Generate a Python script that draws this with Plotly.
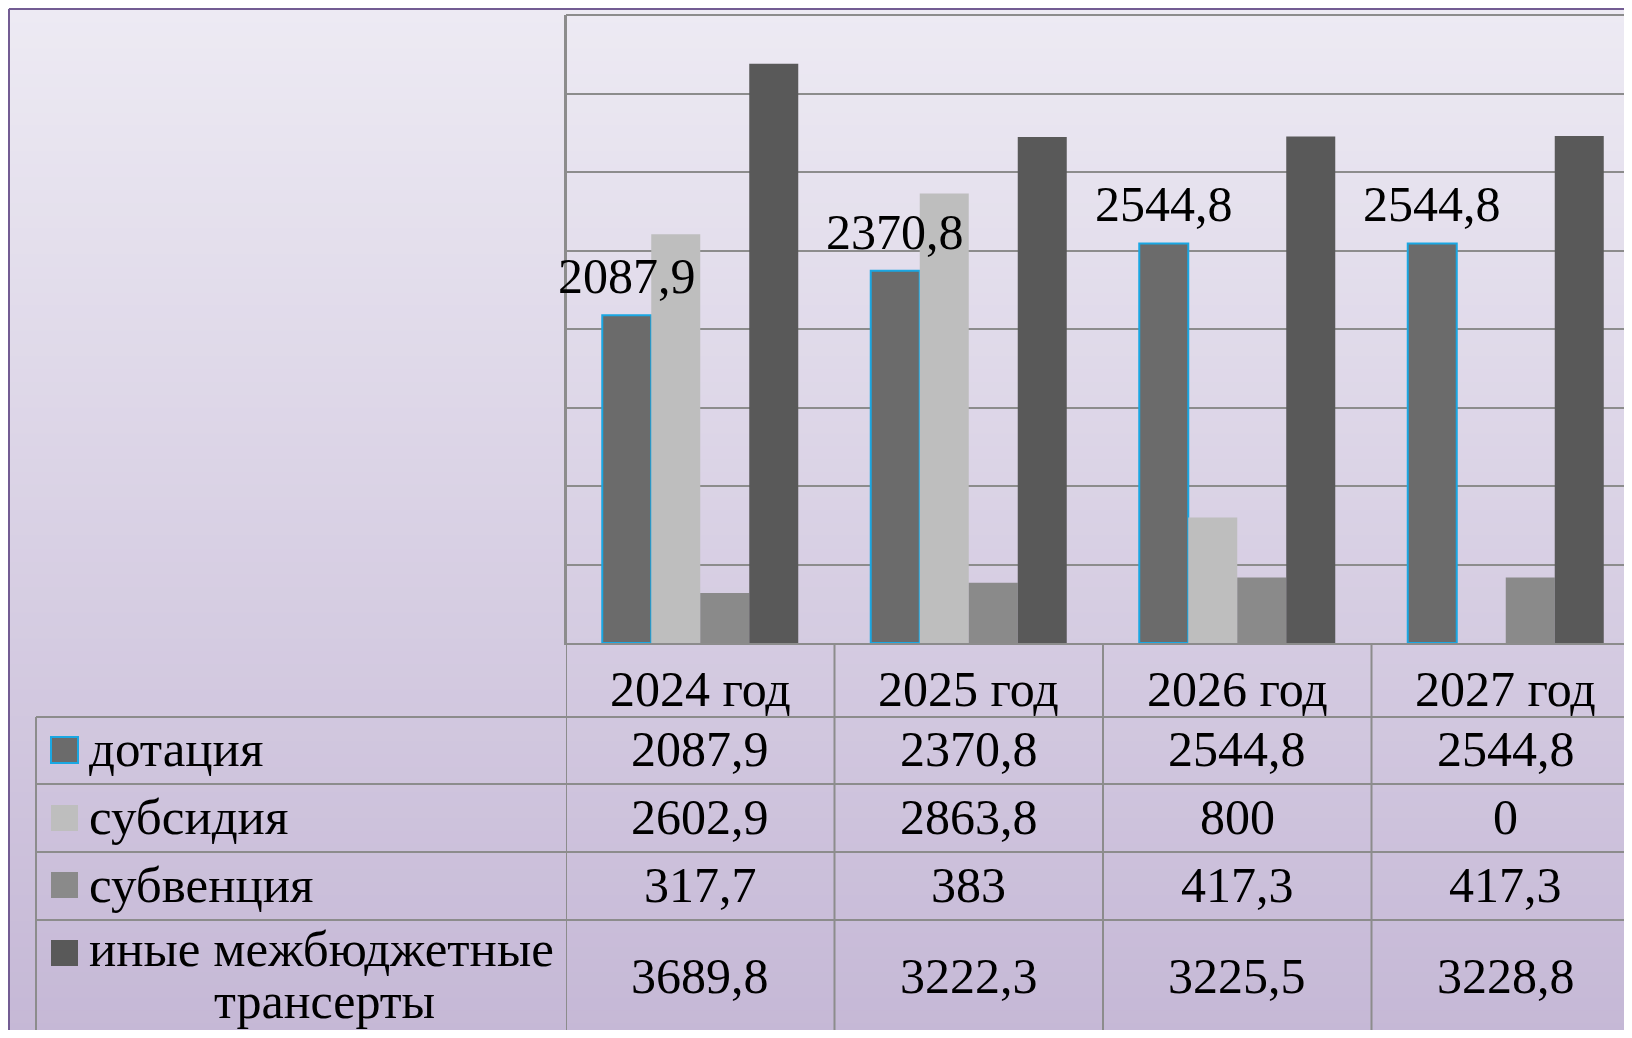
import plotly.graph_objects as go

# ---------------- data ----------------
years = ["2024 год", "2025 год", "2026 год", "2027 год"]
series_names = ["дотация", "субсидия", "субвенция", "иные межбюджетные<br>трансерты"]
dotaciya = [2087.9, 2370.8, 2544.8, 2544.8]
subsidiya = [2602.9, 2863.8, 800, 0]
subvenciya = [317.7, 383, 417.3, 417.3]
inye = [3689.8, 3222.3, 3225.5, 3228.8]
all_values = [dotaciya, subsidiya, subvenciya, inye]

colors = ["#6B6B6B", "#BEBEBE", "#8A8A8A", "#595959"]
FONT = "Liberation Serif"
FS = 50
FS_LEG = 51

OFF = 8  # browser body margin
W, H = 1632 - 2 * OFF, 1038 - 2 * OFF
PL, PT, PB = 566 - OFF, 15 - OFF, 643 - OFF  # plot area pixel bounds (figure coords)
PR = W
CAT_W = 268.5
BARGAP = 0.27


def fmt(v):
    if float(v).is_integer():
        return str(int(v))
    return str(v).replace(".", ",")


def py(p):  # page pixel y -> paper y
    return (PB - (p - OFF)) / (PB - PT)


def px(p):  # page pixel x -> paper x
    return ((p - OFF) - PL) / (PR - PL)


fig = go.Figure()
for i, (name, vals) in enumerate(zip(series_names, all_values)):
    fig.add_trace(go.Bar(
        x=list(range(len(years))), y=vals, name=name.replace("<br>", " "),
        marker=dict(color=colors[i],
                    line=dict(color="#1AA7E2" if i == 0 else colors[i], width=2 if i == 0 else 0))))

shapes = []
# background gradient
top_c = (237, 234, 243)
bot_c = (197, 184, 214)
N = 80
y0p, y1p = 10, 1036
for k in range(N):
    t = k / (N - 1)
    c = tuple(int(round(top_c[j] + (bot_c[j] - top_c[j]) * t)) for j in range(3))
    a = y0p + (y1p - y0p) * k / N
    b = y0p + (y1p - y0p) * (k + 1) / N + 1
    shapes.append(dict(type="rect", xref="paper", yref="paper", layer="below",
                       x0=px(10), x1=px(1640), y0=py(a), y1=py(b),
                       fillcolor="rgb(%d,%d,%d)" % c, line=dict(width=0)))
# slide frame
frame = "#735C93"
shapes.append(dict(type="line", xref="paper", yref="paper", x0=px(9), x1=px(9), y0=py(9), y1=py(1036),
                   line=dict(color=frame, width=2)))
shapes.append(dict(type="line", xref="paper", yref="paper", x0=px(9), x1=px(1640), y0=py(9), y1=py(9),
                   line=dict(color=frame, width=2)))

grid = "#8C8C8C"
# top border of plot
shapes.append(dict(type="line", xref="paper", yref="paper", x0=0, x1=1.01, y0=1, y1=1,
                   line=dict(color=grid, width=2)))
# table horizontal lines
for p in [717, 784, 852, 920]:
    shapes.append(dict(type="line", xref="paper", yref="paper", x0=px(36), x1=1.01, y0=py(p), y1=py(p),
                       line=dict(color=grid, width=2)))
# table verticals
shapes.append(dict(type="line", xref="paper", yref="paper", x0=px(36), x1=px(36), y0=py(717), y1=py(1040),
                   line=dict(color=grid, width=2)))
for i in range(len(years)):
    shapes.append(dict(type="line", xref="x", yref="paper", x0=i - 0.5, x1=i - 0.5,
                       y0=0 if i > 0 else 1, y1=py(1040), line=dict(color=grid, width=2)))

annotations = []
# data labels above "дотация" bars (drawn on top of neighbouring bars)
bar_w = (1 - BARGAP) / len(all_values)
lab_off = -1.5 * bar_w
for i, v in enumerate(dotaciya):
    annotations.append(dict(x=i + lab_off, y=v, xref="x", yref="y", text=fmt(v), showarrow=False,
                            font=dict(family=FONT, size=FS, color="black"),
                            xanchor="center", yanchor="bottom", yshift=9))

row_mid = [750, 818, 886, 977]
for i, yr in enumerate(years):
    annotations.append(dict(x=i, y=py(689), xref="x", yref="paper", text=yr, showarrow=False,
                            font=dict(family=FONT, size=FS, color="black"), xanchor="center", yanchor="middle"))
    for r, vals in enumerate(all_values):
        annotations.append(dict(x=i, y=py(row_mid[r] - 1), xref="x", yref="paper", text=fmt(vals[i]),
                                showarrow=False, font=dict(family=FONT, size=FS, color="black"),
                                xanchor="center", yanchor="middle"))
# legend labels and keys
key_y = [750, 818, 885, 953]
for r, name in enumerate(series_names):
    parts = name.split("<br>")
    if len(parts) == 1:
        annotations.append(dict(x=px(87), y=py(row_mid[r] - 1), xref="paper", yref="paper", text=parts[0],
                                showarrow=False, font=dict(family=FONT, size=FS_LEG, color="black"),
                                xanchor="left", yanchor="middle"))
    else:
        annotations.append(dict(x=px(87), y=py(949), xref="paper", yref="paper", text=parts[0],
                                showarrow=False, font=dict(family=FONT, size=FS_LEG, color="black"),
                                xanchor="left", yanchor="middle"))
        annotations.append(dict(x=px(324), y=py(1001), xref="paper", yref="paper", text=parts[1],
                                showarrow=False, font=dict(family=FONT, size=FS, color="black"),
                                xanchor="center", yanchor="middle"))
    k = key_y[r]
    shapes.append(dict(type="rect", xref="paper", yref="paper", x0=px(51), x1=px(78),
                       y0=py(k - 13), y1=py(k + 13), fillcolor=colors[r],
                       line=dict(color="#1AA7E2" if r == 0 else colors[r], width=2 if r == 0 else 0)))

fig.update_layout(
    width=W, height=H,
    margin=dict(l=PL, r=0, t=PT, b=H - PB, pad=0),
    barmode="group", bargap=BARGAP, bargroupgap=0,
    paper_bgcolor="#F5F3F7", plot_bgcolor="rgba(0,0,0,0)",
    showlegend=False,
    shapes=shapes, annotations=annotations,
    xaxis=dict(range=[-0.5, -0.5 + (PR - PL) / CAT_W], showticklabels=False, showgrid=False,
               zeroline=False, showline=True, linecolor=grid, linewidth=2, ticks=""),
    yaxis=dict(range=[0, 4000], dtick=500, showticklabels=False, showgrid=True, gridcolor=grid,
               gridwidth=2, zeroline=False, showline=True, linecolor=grid, linewidth=2, ticks=""),
)

fig.write_html("out.html")
